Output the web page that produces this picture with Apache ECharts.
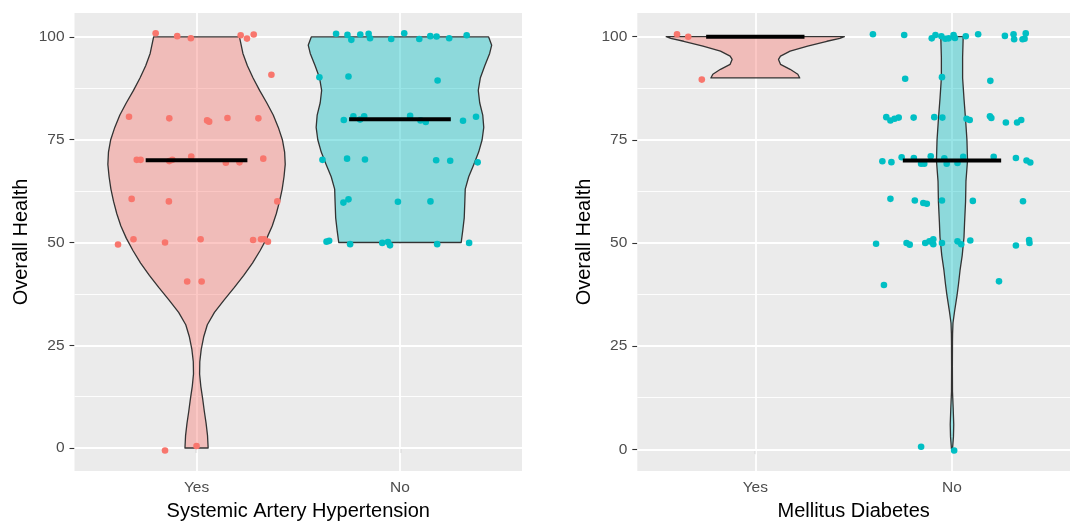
<!DOCTYPE html>
<html><head><meta charset="utf-8">
<script src="https://cdn.jsdelivr.net/npm/echarts@6/dist/echarts.min.js"></script>
<style>html,body{margin:0;padding:0;background:#fff;}#c{width:1070px;height:526px;}</style>
</head><body><div id="c"></div>
<script>
const categories = ['Yes', 'No'];
const categoryPositions = [1, 2];
const yTicks = [0, 25, 50, 75, 100];
const yMinorTicks = [12.5, 37.5, 62.5, 87.5];
const panelTitles = ['Systemic Artery Hypertension', 'Mellitus Diabetes'];
const yTitle = 'Overall Health';

// points: [jitter offset from category centre, Overall Health]
const hypYesPoints = [[-0.201,100.9],[-0.095,100.2],[-0.028,99.7],[0.217,100.4],[0.248,99.6],[0.281,100.6],[0.368,90.8],
  [-0.332,80.6],[-0.134,80.2],[0.052,79.7],[0.062,79.4],[0.152,80.3],[0.304,80.2],
  [-0.294,70.1],[-0.275,70.1],[-0.134,69.8],[-0.119,70.1],[-0.026,70.9],[0.144,69.4],[0.211,69.5],[0.328,70.4],
  [-0.319,60.6],[-0.136,60.0],[0.397,60.0],
  [-0.386,49.5],[-0.31,50.8],[-0.155,50.0],[0.02,50.8],[0.278,50.6],[0.317,50.8],[0.333,50.8],[0.351,50.2],
  [-0.046,40.5],[0.025,40.5],[-0.155,-0.6],[0,0.5]];
const hypNoPoints = [[-0.314,100.8],[-0.258,100.5],[-0.239,99.3],[-0.195,100.6],[-0.154,100.8],[-0.147,99.7],[-0.043,99.5],[0.021,100.9],[0.095,99.5],[0.149,100.2],[0.18,100.1],[0.242,99.7],[0.328,100.4],
  [-0.396,90.2],[-0.253,90.4],[0.185,89.4],
  [-0.276,79.8],[-0.229,80.7],[-0.196,79.9],[-0.176,80.7],[0.05,80.8],[0.101,79.7],[0.127,79.3],[0.31,79.6],[0.374,80.6],
  [-0.381,70.1],[-0.26,70.4],[-0.172,70.2],[0.178,70.0],[0.247,69.9],[0.382,69.5],
  [-0.278,59.7],[-0.253,60.5],[-0.01,59.9],[0.15,60.0],
  [-0.361,50.2],[-0.348,50.4],[-0.245,49.6],[-0.087,49.9],[-0.059,50.1],[-0.049,49.3],[0.183,49.6],[0.34,49.9]];
const diaYesPoints = [[-0.398,100.6],[-0.341,100.0],[-0.272,89.6]];
const diaNoPoints = [[-0.402,100.6],[-0.243,100.4],[-0.103,99.6],[-0.084,100.4],[-0.054,100.1],[-0.034,99.5],[-0.017,99.6],[0.008,100.4],[0.015,99.7],[0.07,100.1],[0.133,100.6],[0.269,100.2],[0.313,100.6],[0.316,99.4],[0.359,99.4],[0.369,99.5],[0.375,100.8],
  [-0.238,89.8],[-0.051,90.2],[0.195,89.3],
  [-0.334,80.5],[-0.313,79.7],[-0.292,80.1],[-0.271,80.4],[-0.195,80.4],[-0.09,80.5],[-0.049,80.4],[0.074,80.1],[0.09,79.8],[0.193,80.7],[0.2,80.3],[0.274,79.2],[0.331,79.2],[0.352,79.8],
  [-0.354,69.8],[-0.308,69.6],[-0.256,70.8],[-0.194,70.6],[-0.157,69.2],[-0.141,69.2],[-0.108,71.0],[-0.039,70.5],[-0.027,69.2],[0.028,69.4],[0.057,70.9],[0.212,70.9],[0.325,70.6],[0.379,70.0],[0.398,69.5],
  [-0.313,60.7],[-0.189,60.3],[-0.146,59.7],[-0.128,59.5],[-0.051,60.3],[0.106,60.2],[0.361,60.1],
  [-0.386,49.8],[-0.231,50.0],[-0.215,49.6],[-0.136,50.0],[-0.115,50.4],[-0.095,50.9],[-0.095,49.7],[-0.051,50.0],[0.028,50.4],[0.047,49.7],[0.093,50.6],[0.325,49.4],[0.392,50.7],[0.394,50.0],
  [-0.346,39.8],[0.239,40.7],[-0.157,0.6],[0.011,-0.3]];

const hypMedians = [70, 80];
const diaMedians = [100, 70];

// violin outlines: [Overall Health, half width in category units]
const hypYesViolin = [[0,.057],[3,.054],[6,.047],[9,.038],[12,.030],[15,.021],[18,.015],[21,.016],[24,.023],[27,.035],[30,.053],[33,.088],[36,.135],[39,.185],[42,.232],[45,.275],[48,.312],[51,.345],[54,.372],[57,.392],[60,.408],[63,.421],[66,.430],[69,.436],[72,.433],[75,.422],[78,.402],[81,.377],[84,.345],[87,.310],[90,.278],[93,.250],[96,.228],[100,.211]];
const hypNoViolin = [[50,.301],[53,.309],[56,.316],[60,.319],[63,.321],[66,.338],[69,.363],[72,.387],[75,.404],[78,.412],[81,.407],[84,.392],[87,.385],[90,.395],[93,.417],[96,.441],[98,.451],[100,.436]];
const diaYesViolin = [[90,.226],[90.9,.216],[92.1,.177],[93.3,.128],[94.5,.118],[95.3,.128],[96.5,.177],[97.7,.266],[98.9,.364],[99.6,.43],[100,.453]];
const diaNoViolin = [[0,.0025],[3,.0074],[6,.0089],[10,.006],[14,.0025],[20,.002],[26,.0025],[28,.003],[30.6,.005],[33.4,.013],[37.4,.026],[40,.033],[43.4,.041],[47,.052],[51.4,.061],[55,.064],[60,.069],[65,.071],[70,.079],[75,.076],[80,.069],[85,.061],[90,.054],[95,.054],[100,.057]];

const RED = '#F8766D', TEAL = '#00BFC4';
const RED_FILL = 'rgba(248,118,109,0.4)', TEAL_FILL = 'rgba(0,191,196,0.4)';
const FONT = "'Liberation Sans', Arial, sans-serif";

function gridSeries(g) {
  const d = [];
  yTicks.forEach(v => d.push({ yAxis: v, lineStyle: { width: 1.8 } }));
  yMinorTicks.forEach(v => d.push({ yAxis: v, lineStyle: { width: 0.9 } }));
  categoryPositions.forEach(v => d.push({ xAxis: v, lineStyle: { width: 1.8 } }));
  return {
    type: 'line', xAxisIndex: g, yAxisIndex: g, data: [], silent: true, z: 1,
    markLine: { silent: true, z: 1, symbol: ['none', 'none'], animation: false, label: { show: false },
      lineStyle: { color: '#FFFFFF', type: 'solid' }, emphasis: { disabled: true }, data: d }
  };
}
function violinSeries(g, pos, profile, fill) {
  return {
    type: 'custom', xAxisIndex: g, yAxisIndex: g, z: 3, silent: true, data: [[pos, profile[0][0]]],
    renderItem: function (params, api) {
      const right = profile.map(p => api.coord([pos + p[1], p[0]]));
      const left = profile.slice().reverse().map(p => api.coord([pos - p[1], p[0]]));
      return { type: 'polygon', shape: { points: right.concat(left) },
        style: { fill: fill, stroke: '#333333', lineWidth: 1.3, lineJoin: 'round' } };
    }
  };
}
function pointSeries(g, pos, pts, color) {
  return { type: 'scatter', xAxisIndex: g, yAxisIndex: g, z: 4, silent: true, symbolSize: 6.6,
    itemStyle: { color: color, opacity: 1 }, data: pts.map(p => [pos + p[0], p[1]]) };
}
function medianSeries(g, meds) {
  return { type: 'custom', xAxisIndex: g, yAxisIndex: g, z: 5, silent: true,
    data: meds.map((m, i) => [categoryPositions[i], m]),
    renderItem: function (params, api) {
      const x = api.value(0), y = api.value(1);
      const a = api.coord([x - 0.25, y]), b = api.coord([x + 0.25, y]);
      return { type: 'line', shape: { x1: a[0], y1: a[1], x2: b[0], y2: b[1] },
        style: { stroke: '#000000', lineWidth: 4, lineCap: 'butt' } };
    } };
}
function xAxis(g) {
  return { type: 'value', gridIndex: g, min: 0.4, max: 2.6,
    splitLine: { show: false }, axisLine: { show: false },
    axisTick: { show: true, customValues: categoryPositions, length: 5, lineStyle: { color: '#333333', width: 1.1 } },
    axisLabel: { customValues: categoryPositions, formatter: v => categories[categoryPositions.indexOf(Math.round(v))],
      color: '#4D4D4D', fontSize: 15.5, margin: 9, fontFamily: FONT },
    name: panelTitles[g], nameLocation: 'middle', nameGap: 30,
    nameTextStyle: { color: '#000000', fontSize: 20, fontFamily: FONT } };
}
function yAxis(g, mn, mx) {
  return { type: 'value', gridIndex: g, min: mn, max: mx,
    splitLine: { show: false }, axisLine: { show: false },
    axisTick: { show: true, customValues: yTicks, length: 5, lineStyle: { color: '#333333', width: 1.1 } },
    axisLabel: { customValues: yTicks, color: '#4D4D4D', fontSize: 15.5, margin: 10, fontFamily: FONT },
    name: yTitle, nameLocation: 'middle', nameGap: 43,
    nameTextStyle: { color: '#000000', fontSize: 20, fontFamily: FONT } };
}

const chart = echarts.init(document.getElementById('c'), null, { renderer: 'canvas' });
chart.setOption({
  animation: false,
  backgroundColor: '#FFFFFF',
  grid: [
    { left: 74.5, top: 13, width: 447.5, height: 458.7, show: true, backgroundColor: '#EBEBEB', borderWidth: 0 },
    { left: 637.3, top: 13, width: 447.4, height: 463.7, show: true, backgroundColor: '#EBEBEB', borderWidth: 0 }
  ],
  xAxis: [xAxis(0), xAxis(1)],
  yAxis: [yAxis(0, -5.59, 105.83), yAxis(1, -5.27, 105.75)],
  series: [
    gridSeries(0), gridSeries(1),
    violinSeries(0, 1, hypYesViolin, RED_FILL), violinSeries(0, 2, hypNoViolin, TEAL_FILL),
    violinSeries(1, 1, diaYesViolin, RED_FILL), violinSeries(1, 2, diaNoViolin, TEAL_FILL),
    pointSeries(0, 1, hypYesPoints, RED), pointSeries(0, 2, hypNoPoints, TEAL),
    pointSeries(1, 1, diaYesPoints, RED), pointSeries(1, 2, diaNoPoints, TEAL),
    medianSeries(0, hypMedians), medianSeries(1, diaMedians)
  ]
});
</script></body></html>
